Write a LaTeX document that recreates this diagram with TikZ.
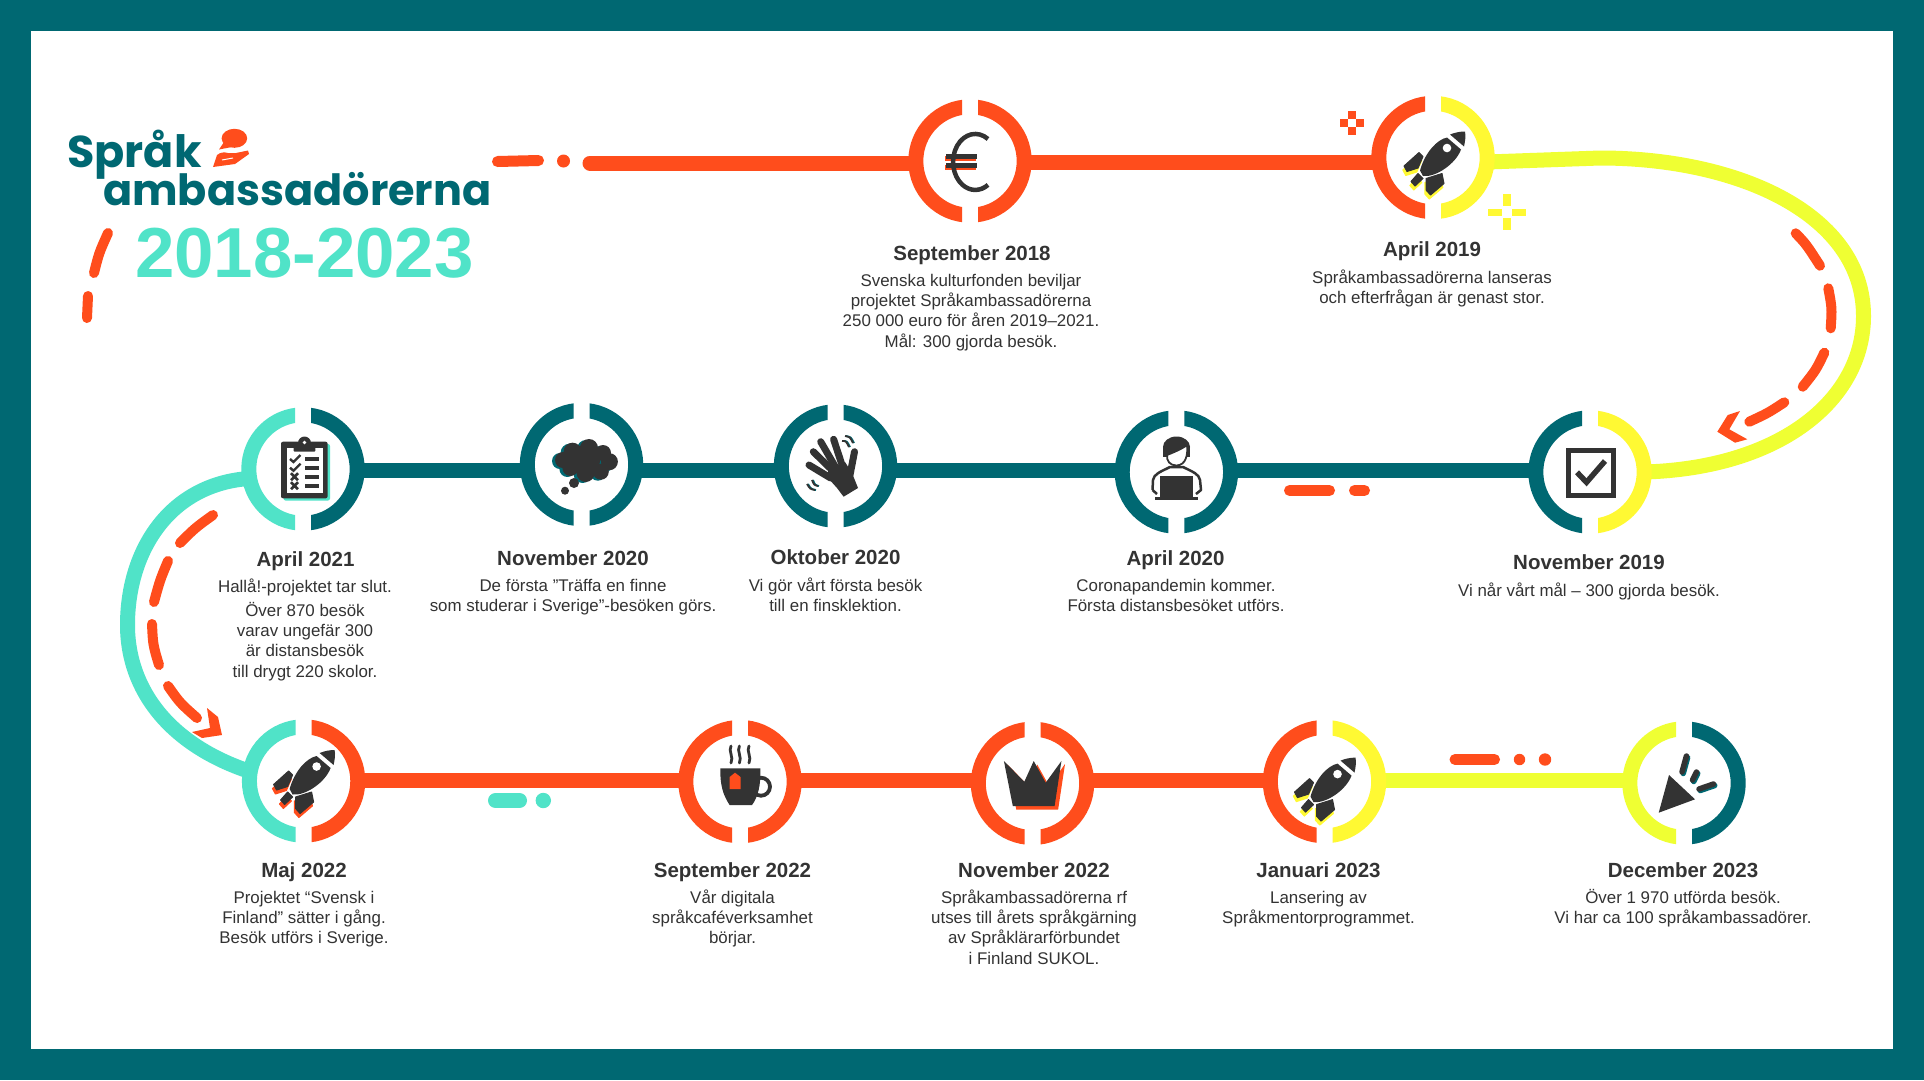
\documentclass[tikz,border=0pt]{standalone}
\usepackage{fontspec}
\setmainfont{Liberation Sans}
\newfontfamily\logofont{Poppins}
\definecolor{ora}{HTML}{FF4D1C}
\definecolor{tealdk}{HTML}{006872}
\definecolor{mint}{HTML}{50E3C8}
\definecolor{yelring}{HTML}{FFF933}
\definecolor{yelline}{HTML}{EFFF33}
\definecolor{ink}{HTML}{333333}
\newcommand\firstline{\rule{0pt}{14pt}}
\tikzset{
  hub/.style={circle,inner sep=0pt,minimum size=108.4pt},
  link/.style={line width=15pt},
  dashpiece/.style={ora,line width=10pt,line cap=round},
  pill/.style={line width=#1,line cap=round},
  title/.style={text=ink,inner sep=0pt,anchor=base,font=\bfseries\fontsize{20.5}{24}\selectfont},
  body/.style={text=ink,inner sep=0pt,anchor=north,align=center,font=\fontsize{16.9}{20.3}\selectfont},
  inkfill/.style={fill=ink},
}
\newcommand\ringhalves[3]{%
  \begin{scope}[shift={(#1)}]
    \begin{scope}\clip (-70,-70) rectangle (-8,70);
      \draw[#2,line width=15pt] (0,0) circle[radius=54.2];\end{scope}
    \begin{scope}\clip (8,-70) rectangle (70,70);
      \draw[#3,line width=15pt] (0,0) circle[radius=54.2];\end{scope}
  \end{scope}}
\newcommand\rocketicon[4]{%
  \begin{scope}[shift={(#1)}]\begin{scope}[shift={(#2,#3)}]
    \foreach \c/\dx/\dy in {#4/-1.2/4,ink/0/0}{
      \begin{scope}[shift={(\dx,\dy)}]
      \fill[\c,draw=\c,line width=1pt,line join=round] (-29,8.5) -- (-14,-5) -- (-10,-1) -- (-15,10.5) -- (-26,14) -- cycle;
      \fill[\c,draw=\c,line width=1pt,line join=round] (-22,24) -- (-15,16) -- (-10,21) -- (-18,28.5) -- cycle;
      \fill[\c,draw=\c,line width=1pt,line join=round] (-7,21) -- (9,16) -- (11,26) -- (-2.5,37.5) -- (-7,32.5) -- cycle;
      \end{scope}}
    \fill[ink] (14,-20) .. controls (4,-18) and (-8,-5) .. (-13,13) -- (-10,18.5) .. controls (3,20) and (23,6) .. (28,-8) -- cycle;
    \fill[ink] (17,-23) .. controls (22,-25) and (27,-26) .. (32,-26) .. controls (33,-21) and (32,-16) .. (31,-11) -- cycle;
    \fill[white] (14,-9.5) circle[radius=4.3];
  \end{scope}\end{scope}}
\begin{document}
\begin{tikzpicture}[x=1pt,y=-1pt]
\path[use as bounding box] (0,0) rectangle (1924,1080);
\fill[tealdk] (0,0) rectangle (1924,1080);
\fill[white] (31,31) rectangle (1893,1049);

% hubs
\node[hub] (euro) at (970,161) {};
\node[hub] (rocket) at (1433,157.5) {};
\node[hub] (check) at (1590,472) {};
\node[hub] (person) at (1176.4,472) {};
\node[hub] (wave) at (835.5,466) {};
\node[hub] (cloud) at (581.5,464.5) {};
\node[hub] (clip) at (303,469) {};
\node[hub] (rocketb) at (303.6,781) {};
\node[hub] (cup) at (740,781.6) {};
\node[hub] (crown) at (1032.5,783.3) {};
\node[hub] (rocketc) at (1324.5,781.6) {};
\node[hub] (cone) at (1684,783) {};
\coordinate (rowA) at (0,162);
\coordinate (rowB) at (0,470.5);
\coordinate (rowC) at (0,780);
\coordinate (lead) at (590,163);

% connectors
\draw[link,ora,line cap=round] (lead) -- (euro.west |- lead);
\draw[link,ora] (euro.east |- rowA) -- (rocket.west |- rowA);
\draw[link,yelline] (rocket.east |- rowA) -- (1600,158) .. controls (1740,158) and (1863.5,215) .. (1863.5,316) .. controls (1863.5,400) and (1780,468) .. (check.east);
\draw[link,tealdk] (check.west |- rowB) -- (person.east |- rowB);
\draw[link,tealdk] (person.west |- rowB) -- (wave.east |- rowB);
\draw[link,tealdk] (wave.west |- rowB) -- (cloud.east |- rowB);
\draw[link,tealdk] (cloud.west |- rowB) -- (clip.east |- rowB);
\draw[link,mint] (clip.190) .. controls (170,484) and (127.5,550) .. (127.5,625) .. controls (127.5,690) and (170,745) .. (rocketb.170);
\draw[link,ora] (rocketb.east |- rowC) -- (cup.west |- rowC);
\draw[link,ora] (cup.east |- rowC) -- (crown.west |- rowC);
\draw[link,ora] (crown.east |- rowC) -- (rocketc.west |- rowC);
\draw[link,yelline] (rocketc.east |- rowC) -- (cone.west |- rowC);

% rings
\ringhalves{euro}{ora}{ora}
\ringhalves{rocket}{ora}{yelring}
\ringhalves{check}{tealdk}{yelring}
\ringhalves{person}{tealdk}{tealdk}
\ringhalves{wave}{tealdk}{tealdk}
\ringhalves{cloud}{tealdk}{tealdk}
\ringhalves{clip}{mint}{tealdk}
\ringhalves{rocketb}{mint}{ora}
\ringhalves{cup}{ora}{ora}
\ringhalves{crown}{ora}{ora}
\ringhalves{rocketc}{ora}{yelring}
\ringhalves{cone}{yelline}{tealdk}

% decorative dashes
\draw[pill=11pt,ora] (497.5,161.5) -- (538.5,160.5);
\fill[ora] (563.5,161) circle[radius=6.5];
\draw[dashpiece] (108,233) .. controls (99,253) .. (94,273);
\draw[dashpiece] (88,296) -- (87,318);
\draw[pill=11pt,ora] (1289.5,490.5) -- (1329.5,490.5);
\draw[pill=11pt,ora] (1354.5,490.5) -- (1364.5,490.5);
\draw[pill=15pt,mint] (495.5,800.5) -- (519.5,800.5);
\fill[mint] (543.3,800.5) circle[radius=7.7];
\draw[pill=11pt,ora] (1455,759.5) -- (1494.5,759.5);
\fill[ora] (1519.5,759.5) circle[radius=5.7];
\fill[ora] (1545,759.5) circle[radius=6.2];
% right arrow
\draw[dashpiece] (1795.7,233.3) .. controls (1806,244) .. (1820,265.7);
\draw[dashpiece] (1828.3,288.3) .. controls (1832,308) .. (1830.7,328.3);
\draw[dashpiece] (1824.3,352.7) .. controls (1816,370) .. (1802.7,386.7);
\draw[dashpiece] (1784.3,402.3) .. controls (1768,413) .. (1749.3,421.7);
\fill[ora] (1740,411) -- (1727.7,415) -- (1717.3,431.7) -- (1735,442.7) -- (1747.3,439.3) -- (1729.3,429.3) -- cycle;
% left arrow
\draw[dashpiece] (213,515) .. controls (195,528) .. (180,543);
\draw[dashpiece] (168,561) .. controls (160,580) .. (154,602);
\draw[dashpiece] (152,624) .. controls (153,645) .. (159,665);
\draw[dashpiece] (168,686) .. controls (180,703) .. (197,718);
\fill[ora] (207,708) -- (218,717) -- (222,735) -- (202,738) -- (192,732) -- (210,728) -- cycle;
% crosses
\foreach \dx/\dy in {0/-8,0/8,-8/0,8/0}{\fill[ora] (1352+\dx-3.8,122.8+\dy-3.8) rectangle +(7.6,7.6);}
\fill[yelring] (1503,194) rectangle (1511,206);
\fill[yelring] (1503,218) rectangle (1511,230);
\fill[yelring] (1488,208.5) rectangle (1502,215.5);
\fill[yelring] (1512,208.5) rectangle (1526,215.5);

% logo
\node[anchor=base west,inner sep=0pt,text=tealdk,font=\logofont\bfseries\fontsize{44.5}{50}\selectfont] (logoa) at (67,167) {Språk};
\node[anchor=base west,inner sep=0pt,text=tealdk,font=\logofont\bfseries\fontsize{43}{50}\selectfont] (logob) at (103,205) {ambassadörerna};
\fill[ora] (234.4,138.3) ellipse[x radius=12.8,y radius=9.5];
\fill[ora] (224,142) -- (219,149.5) -- (232,147) -- cycle;
\fill[ora] (213,167) -- (217,155) .. controls (221,152) and (224,152) .. (228,153) -- (236,153) -- (248,150.5) -- (249,154) -- (235,164) -- cycle;
\draw[white,line width=1pt] (222,160) -- (233,158);
\node[inner sep=0pt,text=mint,anchor=base west,font=\bfseries\fontsize{70.8}{72}\selectfont] (years) at (135,277) {2018-2023};

% icons
% euro
\fill[ora] (945,155.5) rectangle (976,161);
\fill[ora] (945,164.5) rectangle (976,170);
\draw[ink,line width=4.5pt] (988,139) arc[start angle=-55,end angle=-305,x radius=22.2,y radius=28];
\fill[ink] (946,153.5) rectangle (977,159.3);
\fill[ink] (946,162.5) rectangle (977,168);
\rocketicon{rocket}{0}{0}{yelring}
\rocketicon{rocketb}{-1}{-5}{ora}
\rocketicon{rocketc}{-1}{2}{yelring}
% check box
\draw[ink,line width=5pt] (1568,450) rectangle (1613.5,495.5);
\draw[ink,line width=5.5pt] (1577,472.3) -- (1586.5,482.3) -- (1605,461);
% person
\fill[ink] (1176.5,447) ellipse[x radius=13.5,y radius=10.5];
\fill[ink] (1163,447) -- (1163,457) -- (1190,457) -- (1190,447) -- cycle;
\fill[white,draw=ink,line width=1.8pt] (1167,455) .. controls (1172,453) and (1182,449) .. (1187,445) .. controls (1188,455) and (1186,465) .. (1176.5,465.5) .. controls (1170,465.5) and (1166.5,461) .. (1167,455) -- cycle;
\draw[ink,line width=2.5pt,line join=round] (1152.5,490) -- (1153,480) .. controls (1154,474) and (1160,472) .. (1170,467) -- (1183,467) .. controls (1193,472) and (1199,474) .. (1200,480) -- (1201,490) -- (1196,494);
\draw[ink,line width=2.5pt] (1152.5,490) -- (1157,494);
\fill[ink] (1160,476) rectangle (1193,497);
\fill[ink] (1155,497) rectangle (1198,500);
% wave
\fill[ink] (828,470) -- (845,462) -- (852,473) -- (858,488) -- (843.6,496.7) -- (837,488) -- (828,478) -- cycle;
\foreach \ax/\ay/\bx/\by in {809/465/830.6/478, 813.3/451.7/832/470, 820.7/441.7/836/468, 833.6/439.3/843/468, 854.5/451.7/850/475}{
  \draw[ink,line width=7pt,line cap=round] (\ax,\ay) -- (\bx,\by);}
\foreach \c/\s in {tealdk/0,ink/-1}{
  \draw[\c,line width=1.8pt] (843+\s,441) .. controls (847+\s,441) .. (850+\s,447);
  \draw[\c,line width=1.8pt] (846+\s,436) .. controls (851+\s,437) .. (854+\s,443);
  \draw[\c,line width=1.8pt] (819+\s,486) .. controls (815+\s,485) .. (813+\s,480);
  \draw[\c,line width=1.8pt] (816+\s,490) .. controls (811+\s,489) .. (808+\s,484);}
% cloud
\foreach \c/\dx/\dy in {tealdk/-3/1,ink/0/0}{
  \begin{scope}[shift={(\dx,\dy)}]
  \foreach \px/\py/\r in {572.6/451.7/9,589/448/9,603/453/8,609.4/461.7/8.5,600.8/471.7/8,585.6/473/9,570.4/468/8,563/460/8,585/460/15}{
    \fill[\c] (\px,\py) circle[radius=\r];}
  \end{scope}}
\fill[ink] (574,483) circle[radius=5];
\fill[ink] (565,490.7) circle[radius=4];
% clipboard
\fill[mint,rounded corners=2pt] (283.5,444) rectangle (330,500.5);
\fill[ink,rounded corners=2pt] (281,441.7) rectangle (327.6,498.3);
\fill[white] (286.5,447.5) rectangle (322.5,493);
\fill[ink,rounded corners=1pt] (293.7,442) rectangle (315.4,451.7);
\fill[ink] (304.5,443) circle[radius=6.5];
\fill[white] (304.5,442.5) circle[radius=1.8];
\foreach \yy in {459,467.7,476.7,485.7}{\fill[ink] (305,\yy-2) rectangle (319,\yy+2);}
\foreach \yy in {459,467.7}{\draw[ink,line width=2.4pt] (290,\yy) -- (293.5,\yy+3) -- (300.5,\yy-4);}
\foreach \yy in {476.7,485.7}{\draw[ink,line width=2.6pt] (291,\yy-3.5) -- (298,\yy+3.5) (291,\yy+3.5) -- (298,\yy-3.5);}
% cup
\foreach \xx in {731,739.4,749}{
  \draw[ink,line width=2.8pt,line cap=round] (\xx,746) .. controls (\xx-3,751) and (\xx+3,757) .. (\xx,763);}
\draw[ink,line width=3.8pt] (761,786.7) circle[radius=9];
\fill[ink] (720.3,768.3) -- (760.3,768.3) .. controls (761,785) and (758,797) .. (752,805) -- (729.6,805) .. controls (723,795) and (720,785) .. (720.3,768.3) -- cycle;
\fill[ora] (729.6,789) -- (729.6,777) -- (735,772.7) -- (740.5,777) -- (740.5,789) -- cycle;
% crown
\fill[ora] (1007.4,764.5) -- (1027.8,785.2) -- (1037.2,764.5) -- (1049.2,786.2) -- (1065,764) -- (1058.1,809.7) -- (1016.3,809.7) -- cycle;
\fill[ink] (1003.9,761) -- (1024.3,781.7) -- (1033.7,761) -- (1045.7,782.7) -- (1061.4,761) -- (1054.6,806) -- (1012.8,806) -- cycle;
% cone
\foreach \c/\s/\t in {tealdk/1.2/1.5,ink/0/0}{
  \draw[\c,line width=5.5pt,line cap=round] (1686.4+\s,756+\t) -- (1682+\s,772+\t);
  \draw[\c,line width=5.5pt,line cap=round] (1696.5+\s,772+\t) -- (1692.5+\s,780+\t);
  \draw[\c,line width=5.5pt,line cap=round] (1713.5+\s,784+\t) -- (1699+\s,789+\t);}
\fill[ink] (1669,775) -- (1695,799.3) -- (1658.7,812.7) -- cycle;

% texts
\node[title] (t1) at (972,260) {September 2018};
\node[body] (b1) at (971,272) {\firstline Svenska kulturfonden beviljar\\projektet Språkambassadörerna\\250 000 euro för åren 2019–2021.\\Mål: 300 gjorda besök.};
\node[title] (t2) at (1432,256.7) {April 2019};
\node[body] (b2) at (1432,269) {\firstline Språkambassadörerna lanseras\\och efterfrågan är genast stor.};
\node[title] (t3) at (1589,569) {November 2019};
\node[body] (b3) at (1589,582) {\firstline Vi når vårt mål – 300 gjorda besök.};
\node[title] (t4) at (1175.5,565) {April 2020};
\node[body] (b4) at (1176,577) {\firstline Coronapandemin kommer.\\Första distansbesöket utförs.};
\node[title] (t5) at (835.5,564) {Oktober 2020};
\node[body] (b5) at (835.5,577) {\firstline Vi gör vårt första besök\\till en finsklektion.};
\node[title] (t6) at (573,565) {November 2020};
\node[body] (b6) at (573,577) {\firstline De första ”Träffa en finne\\som studerar i Sverige”-besöken görs.};
\node[title] (t7) at (305.5,566.7) {April 2021};
\node[body] (b7) at (305,578.7) {\firstline Hallå!-projektet tar slut.\\[3pt]Över 870 besök\\varav ungefär 300\\är distansbesök\\till drygt 220 skolor.};
\node[title] (t8) at (304,877) {Maj 2022};
\node[body] (b8) at (304,889) {\firstline Projektet “Svensk i\\Finland” sätter i gång.\\Besök utförs i Sverige.};
\node[title] (t9) at (732.5,877) {September 2022};
\node[body] (b9) at (732.5,889) {\firstline Vår digitala\\språkcaféverksamhet\\börjar.};
\node[title] (t10) at (1034,877) {November 2022};
\node[body] (b10) at (1034,889) {\firstline Språkambassadörerna rf\\utses till årets språkgärning\\av Språklärarförbundet\\i Finland SUKOL.};
\node[title] (t11) at (1318.5,877) {Januari 2023};
\node[body] (b11) at (1318.5,889) {\firstline Lansering av\\Språkmentorprogrammet.};
\node[title] (t12) at (1683,877) {December 2023};
\node[body] (b12) at (1683,889) {\firstline Över 1 970 utförda besök.\\Vi har ca 100 språkambassadörer.};
\end{tikzpicture}
\end{document}
